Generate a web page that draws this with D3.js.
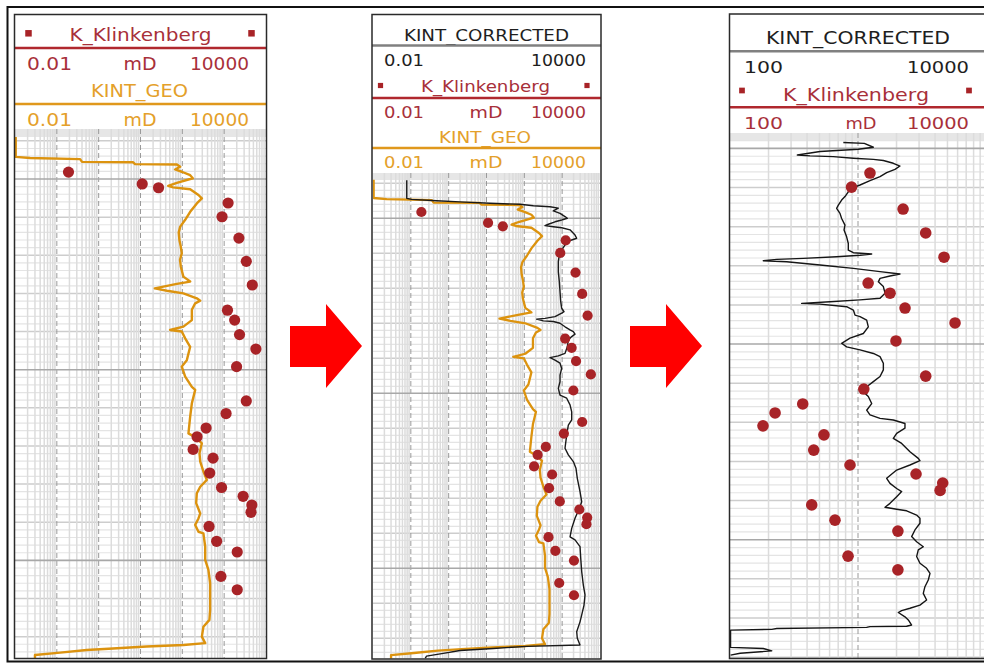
<!DOCTYPE html>
<html>
<head>
<meta charset="utf-8">
<script src="https://cdn.jsdelivr.net/npm/d3@7"></script>
<style>
  html, body { margin: 0; padding: 0; background: #fff; }
  svg { display: block; font-family: "DejaVu Sans", Verdana, sans-serif; }
</style>
</head>
<body>
<svg id="chart" width="984" height="664"></svg>
<script>
// ---- Core plugs: Klinkenberg-corrected permeability (mD) vs depth (m) ----
const coreDepth = [2748.2, 2751.3, 2752.3, 2756.3, 2759.9, 2765.5, 2771.6, 2777.8, 2784.4, 2787.0,
                   2790.8, 2794.6, 2799.2, 2808.2, 2811.5, 2815.3, 2817.6, 2820.9, 2823.2, 2827.1,
                   2830.9, 2833.2, 2835.5, 2837.4, 2841.1, 2845.0, 2847.8, 2854.2, 2857.7];
const corePerm  = [0.19, 11, 27, 1240, 890, 2250, 3380, 4700, 1200, 1780,
                   2330, 5730, 1980, 3380, 1110, 370, 225, 181, 542, 451,
                   866, 2840, 4590, 4380, 435, 661, 2050, 836, 2050];

// ---- KINT_GEO log (mD) ----
const geoDepth = [2739.0, 2744.2, 2744.5, 2744.8, 2745.5, 2745.6, 2746.1, 2746.2, 2746.8, 2747.5,
                  2748.1, 2749.0, 2749.8, 2751.0, 2751.8, 2752.2, 2752.7, 2754.2, 2755.1, 2756.4,
                  2758.6, 2760.7, 2762.5, 2764.0, 2766.0, 2767.8, 2769.5, 2771.2, 2773.0, 2775.6,
                  2776.9, 2777.5, 2778.7, 2779.3, 2780.0, 2781.3, 2781.9, 2782.6, 2784.3, 2787.0,
                  2788.7, 2789.6, 2790.0, 2791.8, 2794.0, 2797.5, 2799.2, 2801.8, 2804.5, 2805.3,
                  2808.8, 2812.3, 2816.7, 2818.0, 2819.3, 2821.9, 2824.1, 2826.7, 2828.9, 2830.7,
                  2832.4, 2835.0, 2837.7, 2839.0, 2840.7, 2842.5, 2842.9, 2846.4, 2849.9, 2852.5,
                  2856.0, 2859.5, 2863.0, 2865.6, 2867.4, 2870.0, 2871.7, 2872.2, 2872.6, 2873.1,
                  2873.5, 2874.2, 2874.8, 2876.1];
const geoPerm  = [0.0104, 0.0104, 0.023, 0.36, 0.40, 6.6, 7.4, 74, 89, 67,
                  97, 154, 178, 74, 46, 60, 154, 243, 293, 222,
                  154, 117, 89, 82, 85, 92, 97, 88, 92, 106,
                  154, 74, 22, 43, 106, 222, 268, 203, 169, 169,
                  106, 51, 97, 117, 154, 128, 97, 117, 169, 203,
                  169, 154, 140, 222, 293, 257, 268, 319, 385, 268,
                  222, 214, 268, 243, 203, 243, 319, 352, 352, 420,
                  462, 462, 462, 444, 319, 293, 352, 106, 14, 2.2,
                  0.52, 0.12, 0.03, 0.03];

// ---- KINT_CORRECTED log, full range (mD) ----
const corrDepth = [2739.1, 2744.3, 2744.6, 2745.0, 2745.3, 2745.7, 2746.0, 2746.4, 2746.7, 2747.1,
                   2747.9, 2748.6, 2749.5, 2750.0, 2750.5, 2751.0, 2751.7, 2752.1, 2752.4, 2752.7,
                   2753.3, 2754.8, 2755.7, 2756.2, 2756.7, 2757.6, 2759.1, 2760.5, 2762.4, 2765.3,
                   2768.1, 2771.0, 2773.8, 2775.7, 2776.7, 2777.1, 2778.1, 2778.6, 2778.8, 2779.3,
                   2779.5, 2780.0, 2781.0, 2781.9, 2782.4, 2783.1, 2783.8, 2784.8, 2786.7, 2788.6,
                   2789.3, 2789.8, 2790.5, 2791.4, 2792.9, 2794.8, 2796.7, 2798.6, 2800.5, 2801.4,
                   2803.3, 2805.3, 2807.6, 2809.1, 2811.9, 2815.7, 2817.6, 2819.5, 2821.4, 2824.3,
                   2828.1, 2831.0, 2832.9, 2835.7, 2838.6, 2841.0, 2841.9, 2843.8, 2847.1, 2851.0,
                   2854.8, 2857.6, 2860.5, 2863.3, 2865.3, 2868.1, 2870.0, 2871.9, 2872.3, 2872.9,
                   2873.5, 2874.3, 2875.1, 2875.7];
const corrPerm  = [0.078, 0.078, 0.105, 0.48, 2.0, 12.4, 77, 173, 477, 791,
                   583, 877, 1189, 1368, 973, 647, 431, 352, 583, 973,
                   1614, 2187, 2421, 1787, 1455, 1189, 973, 841, 791, 791,
                   841, 877, 916, 973, 1119, 973, 647, 352, 212, 318,
                   583, 877, 1189, 1614, 1972, 2187, 1787, 1455, 1368, 1189,
                   791, 477, 647, 877, 973, 877, 877, 791, 877, 1318,
                   1614, 1787, 1787, 1455, 1318, 1189, 1455, 1972, 2317, 2512,
                   2965, 3288, 2838, 2187, 1787, 1614, 2187, 2965, 3093, 3288,
                   3623, 4018, 3784, 3288, 2965, 2421, 2512, 2965, 116, 15,
                   2.0, 0.72, 0.26, 0.24];

// ---- KINT_CORRECTED log, high-permeability view (mD) ----
const corrHiDepth = [2748.5, 2748.7, 2749.7, 2750.2, 2750.8, 2751.7, 2751.9, 2752.1, 2752.5, 2752.8,
                     2753.1, 2753.8, 2754.5, 2755.35, 2756.2, 2757.2, 2758.25, 2759.35, 2760.2, 2761.1,
                     2762.3, 2763.2, 2764.5, 2765.3, 2766.6, 2767.9, 2769.6, 2770.85, 2772.6, 2774.3,
                     2776.0, 2776.65, 2777.0, 2777.3, 2777.7, 2778.1, 2778.35, 2778.7, 2778.95, 2779.8,
                     2780.65, 2781.5, 2782.1, 2782.6, 2783.2, 2784.1, 2785.3, 2787.0, 2788.3, 2788.7,
                     2789.2, 2789.6, 2789.8, 2790.45, 2791.3, 2792.6, 2793.0, 2793.9, 2795.6, 2797.3,
                     2798.5, 2799.8, 2800.7, 2801.5, 2802.4, 2803.2, 2804.9, 2806.6, 2808.3, 2809.6,
                     2810.9, 2812.6, 2813.4, 2815.2, 2816.9, 2818.1, 2819.0, 2819.4, 2820.3, 2821.5,
                     2822.8, 2824.1, 2825.4, 2827.5, 2829.2, 2829.8, 2830.9, 2832.2, 2834.3, 2835.6,
                     2836.9, 2837.7, 2839.0, 2840.7, 2841.7, 2842.2, 2842.6, 2843.7, 2844.5, 2845.8,
                     2847.5, 2849.2, 2850.5, 2851.8, 2852.6, 2854.3, 2856.0, 2857.3, 2858.6, 2860.3,
                     2862.0, 2863.7, 2865.4, 2866.7, 2867.5, 2868.1, 2868.6, 2869.7, 2870.5, 2871.8,
                     2872.1, 2872.2, 2872.4, 2872.7, 2872.9, 2873.1, 2877.5, 2877.8, 2878.4, 2879.0,
                     2879.5];
const corrHiPerm  = [768, 1120, 1318, 1006, 505, 336, 422, 641, 920, 1318,
                     1578, 1888, 2128, 1945, 1675, 1486, 1241, 1037, 893, 840,
                     791, 745, 702, 681, 723, 745, 791, 778, 815, 840,
                     840, 920, 1279, 1037, 681, 374, 232, 182, 277, 505,
                     920, 1486, 2128, 1778, 1486, 1442, 1578, 1626, 1486, 1037,
                     604, 363, 505, 815, 920, 948, 1037, 1169, 1204, 1101,
                     866, 745, 815, 1037, 1318, 1486, 1578, 1578, 1486, 1318,
                     1169, 1135, 1204, 1279, 1169, 1241, 1486, 1888, 2328, 2328,
                     2005, 1888, 2193, 2547, 2958, 3048, 2547, 2005, 1675, 1778,
                     2005, 2193, 2005, 1778, 1626, 2005, 2399, 2871, 3048, 3048,
                     2786, 2624, 2871, 3236, 2958, 2871, 3048, 3436, 3652, 3540,
                     3334, 3236, 3436, 3048, 2547, 2193, 2065, 2328, 2472, 2624,
                     2399, 1241, 1169, 232, 212, 101, 101, 182, 212, 120,
                     101];

// ---- Track header labels ----
const curveNames = { core: "K_Klinkenberg", geo: "KINT_GEO", corr: "KINT_CORRECTED" };
const unitLabel = "mD";
const wideScale = ["0.01", "10000"];
const narrowScale = ["100", "10000"];

const C = {
  red: "#a8303a", redLine: "#b0282e", orange: "#e4a02a", orangeLine: "#e0981c",
  orangeCurve: "#dc930f", ink: "#1e1e1e", greyLine: "#808080", dot: "#a82327"
};

const svg = d3.select("#chart");

// outer frame
svg.append("rect").attr("x", 7.5).attr("y", 7).attr("width", 995).attr("height", 654.5)
  .attr("fill", "#fff").attr("stroke", "#111").attr("stroke-width", 2);

const panels = [
  {
    box: [14.5, 14.5, 266.5, 658.5], plot: [15, 137, 266, 658], band: 129,
    perm: [0.01, 10000], depth: [2738.99, 2875.6], dotR: 5.6,
    curves: [{ d: geoDepth, v: geoPerm, color: C.orangeCurve, w: 2.4 }],
    head: [
      { kind: "title", text: curveNames.core, y: 40.7, cx: 140.5, len: 142, size: 17, color: C.red,
        mark: { y: 33.3, xs: [28.5, 251.5], s: 6.5 } },
      { kind: "rule", y: 48, color: C.redLine },
      { kind: "scale", labels: wideScale, unit: true, y: 70, lx: 27, llen: 45, cx: 140, ulen: 33, rx: 249, rlen: 59, size: 17, color: C.red },
      { kind: "title", text: curveNames.geo, y: 97.3, cx: 139.5, len: 97, size: 17, color: C.orange },
      { kind: "rule", y: 104, color: C.orangeLine },
      { kind: "scale", labels: wideScale, unit: true, y: 126, lx: 27, llen: 45, cx: 140, ulen: 33, rx: 249, rlen: 59, size: 17, color: C.orange }
    ]
  },
  {
    box: [372, 14.5, 601, 659], plot: [373, 180, 600, 658.5], band: 173,
    perm: [0.01, 10000], depth: [2739.06, 2875.77], dotR: 5.1,
    curves: [
      { d: geoDepth, v: geoPerm, color: C.orangeCurve, w: 2.3 },
      { d: corrDepth, v: corrPerm, color: "#1a1a1a", w: 1.4 }
    ],
    head: [
      { kind: "title", text: curveNames.corr, y: 40.7, cx: 486.5, len: 165, size: 15.5, color: C.ink },
      { kind: "rule", y: 45.5, color: C.greyLine },
      { kind: "scale", labels: wideScale, unit: false, y: 66, lx: 384, llen: 40, rx: 586, rlen: 55, size: 15.5, color: C.ink },
      { kind: "title", text: curveNames.core, y: 91.7, cx: 485.5, len: 129, size: 15.5, color: C.red,
        mark: { y: 85.5, xs: [380.5, 587], s: 5.2 } },
      { kind: "rule", y: 98, color: C.redLine },
      { kind: "scale", labels: wideScale, unit: true, y: 118.3, lx: 384, llen: 40, cx: 486, ulen: 33, rx: 586, rlen: 55, size: 15.5, color: C.red },
      { kind: "title", text: curveNames.geo, y: 142.7, cx: 485, len: 92, size: 15.5, color: C.orange },
      { kind: "rule", y: 148, color: C.orangeLine },
      { kind: "scale", labels: wideScale, unit: true, y: 168.3, lx: 384, llen: 40, cx: 486, ulen: 33, rx: 586, rlen: 55, size: 15.5, color: C.orange }
    ]
  },
  {
    box: [729.5, 14, 1000, 658.5], plot: [730, 140, 986, 658.3], band: 133,
    perm: [100, 10000], depth: [2747.85, 2880.3], dotR: 5.8,
    curves: [{ d: corrHiDepth, v: corrHiPerm, color: "#151515", w: 1.4 }],
    head: [
      { kind: "title", text: curveNames.corr, y: 44.3, cx: 858, len: 184, size: 18.5, color: C.ink },
      { kind: "rule", y: 51.3, color: C.greyLine },
      { kind: "scale", labels: narrowScale, unit: false, y: 72.7, lx: 744, llen: 39, rx: 969, rlen: 62, size: 16.5, color: C.ink },
      { kind: "title", text: curveNames.core, y: 100.7, cx: 856, len: 146, size: 17, color: C.red,
        mark: { y: 90.5, xs: [742, 969], s: 5.7 } },
      { kind: "rule", y: 107.3, color: C.redLine },
      { kind: "scale", labels: narrowScale, unit: true, y: 129, lx: 744, llen: 39, cx: 861, ulen: 31, rx: 969, rlen: 62, size: 16.5, color: C.red }
    ]
  }
];

function drawHeader(g, p) {
  p.head.forEach(h => {
    if (h.kind === "rule") {
      g.append("line").attr("x1", p.box[0]).attr("x2", p.box[2]).attr("y1", h.y).attr("y2", h.y)
        .attr("stroke", h.color).attr("stroke-width", 2.5);
    } else if (h.kind === "title") {
      g.append("text").attr("x", h.cx).attr("y", h.y).attr("text-anchor", "middle")
        .attr("font-size", h.size).attr("fill", h.color)
        .attr("textLength", h.len).attr("lengthAdjust", "spacingAndGlyphs").text(h.text);
      if (h.mark) {
        h.mark.xs.forEach(mx => {
          g.append("rect").attr("x", mx - h.mark.s / 2).attr("y", h.mark.y - h.mark.s / 2)
            .attr("width", h.mark.s).attr("height", h.mark.s).attr("fill", C.dot);
        });
      }
    } else if (h.kind === "scale") {
      g.append("text").attr("x", h.lx).attr("y", h.y).attr("text-anchor", "start")
        .attr("font-size", h.size).attr("fill", h.color)
        .attr("textLength", h.llen).attr("lengthAdjust", "spacingAndGlyphs").text(h.labels[0]);
      g.append("text").attr("x", h.rx).attr("y", h.y).attr("text-anchor", "end")
        .attr("font-size", h.size).attr("fill", h.color)
        .attr("textLength", h.rlen).attr("lengthAdjust", "spacingAndGlyphs").text(h.labels[1]);
      if (h.unit) {
        g.append("text").attr("x", h.cx).attr("y", h.y).attr("text-anchor", "middle")
          .attr("font-size", h.size).attr("fill", h.color)
          .attr("textLength", h.ulen).attr("lengthAdjust", "spacingAndGlyphs").text(unitLabel);
      }
    }
  });
}

panels.forEach((p, i) => {
  const g = svg.append("g");
  const [px0, py0, px1, py1] = p.plot;
  const x = d3.scaleLog().domain(p.perm).range([px0, px1]);
  const y = d3.scaleLinear().domain(p.depth).range([py0, py1]);

  // panel background
  g.append("rect").attr("x", p.box[0]).attr("y", p.box[1])
    .attr("width", p.box[2] - p.box[0]).attr("height", p.box[3] - p.box[1]).attr("fill", "#fff");

  drawHeader(g, p);

  const clipId = "plotclip" + i;
  svg.append("clipPath").attr("id", clipId).append("rect")
    .attr("x", px0).attr("y", p.band).attr("width", px1 - px0).attr("height", py1 - p.band);
  const plot = g.append("g").attr("clip-path", `url(#${clipId})`);

  // header/plot separator band
  plot.append("rect").attr("x", px0).attr("y", p.band).attr("width", px1 - px0)
    .attr("height", py0 - p.band).attr("fill", "#e6e6e6");

  // depth grid: 2 m minor, 10 m medium (50 m major drawn later, over the log grid)
  const depthTicks = d3.range(Math.ceil(p.depth[0] / 2) * 2, p.depth[1], 2);
  depthTicks.filter(d => d % 10 !== 0).forEach(d => {
    plot.append("line").attr("x1", px0).attr("x2", px1).attr("y1", y(d)).attr("y2", y(d))
      .attr("stroke", "#e4e4e4").attr("stroke-width", 1.2);
  });
  depthTicks.filter(d => d % 10 === 0 && d % 50 !== 0).forEach(d => {
    plot.append("line").attr("x1", px0).attr("x2", px1).attr("y1", y(d)).attr("y2", y(d))
      .attr("stroke", "#cdcdcd").attr("stroke-width", 1.5);
  });

  // permeability grid: log cycles
  const lo = Math.log10(p.perm[0]), hi = Math.log10(p.perm[1]);
  const minor = [], major = [];
  for (let e = lo; e < hi; e++) {
    for (let k = 1; k <= 9; k++) {
      const v = k * Math.pow(10, e);
      (k === 1 ? major : minor).push(v);
    }
  }
  minor.forEach(v => {
    plot.append("line").attr("x1", x(v)).attr("x2", x(v)).attr("y1", p.band).attr("y2", py1)
      .attr("stroke", "#dcdcdc").attr("stroke-width", 1.5);
  });
  major.filter(v => v > p.perm[0]).forEach(v => {
    plot.append("line").attr("x1", x(v)).attr("x2", x(v)).attr("y1", p.band).attr("y2", py1)
      .attr("stroke", "#9a9a9a").attr("stroke-width", 1).attr("stroke-dasharray", "5,3");
  });
  depthTicks.filter(d => d % 50 === 0).forEach(d => {
    plot.append("line").attr("x1", px0).attr("x2", px1).attr("y1", y(d)).attr("y2", y(d))
      .attr("stroke", "#a8a8a8").attr("stroke-width", 1.6);
  });

  // log curves
  p.curves.forEach(cv => {
    const pts = cv.d.map((d, j) => [cv.v[j], d]);
    const line = d3.line().x(q => x(q[0])).y(q => y(q[1]));
    plot.append("path").attr("d", line(pts)).attr("fill", "none")
      .attr("stroke", cv.color).attr("stroke-width", cv.w).attr("stroke-linejoin", "round");
  });

  // core points
  const cores = coreDepth.map((d, j) => ({ d, v: corePerm[j] }))
    .filter(c => c.v >= p.perm[0] && c.v <= p.perm[1]);
  plot.selectAll("circle.core").data(cores).enter().append("circle").attr("class", "core")
    .attr("cx", c => x(c.v)).attr("cy", c => y(c.d)).attr("r", p.dotR).attr("fill", C.dot);

  // panel border
  g.append("rect").attr("x", p.box[0]).attr("y", p.box[1])
    .attr("width", p.box[2] - p.box[0]).attr("height", p.box[3] - p.box[1])
    .attr("fill", "none").attr("stroke", "#2a2a2a").attr("stroke-width", 1.5);
});

// workflow arrows between tracks
const arrowShape = [[0, 22], [36, 22], [36, 0], [72, 42], [36, 84], [36, 63], [0, 63]];
[[290, 304], [630, 304]].forEach(([ax, ay]) => {
  svg.append("path")
    .attr("d", "M" + arrowShape.map(([u, v]) => (ax + u) + "," + (ay + v)).join("L") + "Z")
    .attr("fill", "#ff0000");
});
</script>
</body>
</html>
